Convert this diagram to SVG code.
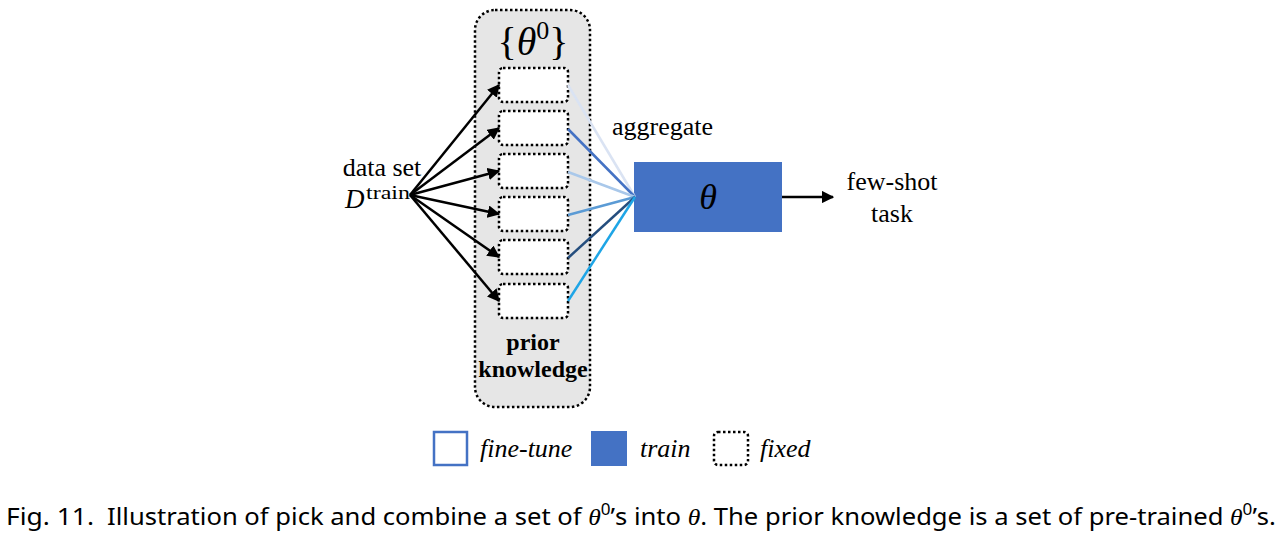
<svg xmlns="http://www.w3.org/2000/svg" width="1285" height="559" viewBox="0 0 1285 559">
<style>
.serif{font-family:"Liberation Serif","DejaVu Serif",serif;fill:#000}
.dot{fill:#fff;stroke:#000;stroke-width:2.5;stroke-dasharray:2.5 2.5}
.ar{stroke:#000;stroke-width:2.5;fill:none}
.cl{stroke-width:2.5;fill:none}
.cap{font-family:"Noto Sans","DejaVu Sans",sans-serif;font-size:24px;fill:#000}
</style>
<defs>
<marker id="ah" viewBox="0 0 10 10" refX="9" refY="5" markerWidth="5" markerHeight="5" orient="auto" markerUnits="strokeWidth">
<path d="M0,0 L10,5 L0,10 Z" fill="#000"/>
</marker>
</defs>
<rect width="1285" height="559" fill="#fff"/>

<g id="prior-knowledge">
<rect x="475" y="10" width="115" height="397" rx="20" fill="#e6e6e6" stroke="#000" stroke-width="2.5" stroke-dasharray="2.5 2.5"/>
<text class="serif" x="533" y="55" font-size="40" text-anchor="middle">{<tspan font-style="italic">θ</tspan><tspan font-size="26" dy="-16">0</tspan><tspan dy="16">}</tspan></text>
<text class="serif" x="533" y="350" font-size="24" font-weight="bold" text-anchor="middle">prior</text>
<text class="serif" x="533" y="377" font-size="24" font-weight="bold" text-anchor="middle">knowledge</text>
</g>

<g id="theta0-1"><rect class="dot" x="499" y="68" width="69" height="34" rx="4"/></g>
<g id="theta0-2"><rect class="dot" x="499" y="111" width="69" height="34" rx="4"/></g>
<g id="theta0-3"><rect class="dot" x="499" y="154" width="69" height="34" rx="4"/></g>
<g id="theta0-4"><rect class="dot" x="499" y="197" width="69" height="34" rx="4"/></g>
<g id="theta0-5"><rect class="dot" x="499" y="240" width="69" height="34" rx="4"/></g>
<g id="theta0-6"><rect class="dot" x="499" y="284" width="69" height="34" rx="4"/></g>

<g id="data-set">
<text class="serif" x="382" y="176" font-size="26" text-anchor="middle">data set</text>
<text class="serif" x="345" y="208" font-size="27" font-style="italic">D</text>
<text class="serif" x="366" y="199" font-size="18" textLength="44" lengthAdjust="spacingAndGlyphs">train</text>
</g>

<g id="theta">
<rect x="634" y="162" width="148" height="70" fill="#4472c4"/>
<text class="serif" x="708" y="209" font-size="36" font-style="italic" text-anchor="middle">θ</text>
</g>

<g id="task">
<text class="serif" x="892" y="190" font-size="26" text-anchor="middle">few-shot</text>
<text class="serif" x="892" y="222" font-size="26" text-anchor="middle">task</text>
</g>

<g id="aggregate-label">
<text class="serif" x="612" y="135" font-size="26">aggregate</text>
</g>

<g id="connectors">
<line class="ar" x1="410" y1="195" x2="499" y2="85" marker-end="url(#ah)"/>
<line class="ar" x1="410" y1="195" x2="499" y2="128" marker-end="url(#ah)"/>
<line class="ar" x1="410" y1="195" x2="499" y2="171" marker-end="url(#ah)"/>
<line class="ar" x1="410" y1="195" x2="499" y2="214" marker-end="url(#ah)"/>
<line class="ar" x1="410" y1="195" x2="499" y2="257" marker-end="url(#ah)"/>
<line class="ar" x1="410" y1="195" x2="499" y2="301" marker-end="url(#ah)"/>
<line class="cl" x1="568" y1="85" x2="635" y2="197" stroke="#dae3f3"/>
<line class="cl" x1="568" y1="129" x2="635" y2="197" stroke="#4472c4"/>
<line class="cl" x1="568" y1="172" x2="635" y2="197" stroke="#a9c8ea"/>
<line class="cl" x1="568" y1="215" x2="635" y2="197" stroke="#5b9bd5"/>
<line class="cl" x1="568" y1="258" x2="635" y2="197" stroke="#254e7e"/>
<line class="cl" x1="568" y1="301" x2="635" y2="197" stroke="#1ea5e6"/>
<line class="ar" x1="782" y1="197" x2="833" y2="197" marker-end="url(#ah)"/>
</g>

<g id="legend">
<rect x="434" y="432" width="33" height="33" fill="#fff" stroke="#4472c4" stroke-width="2.5"/>
<text class="serif" x="480" y="457" font-size="26" font-style="italic">fine-tune</text>
<rect x="591" y="431" width="36" height="35" fill="#4472c4"/>
<text class="serif" x="640" y="457" font-size="26" font-style="italic">train</text>
<rect class="dot" x="714" y="432" width="34" height="33" rx="4"/>
<text class="serif" x="760" y="457" font-size="26" font-style="italic">fixed</text>
</g>

<g id="caption">
<text class="cap" x="6" y="525" textLength="88" lengthAdjust="spacingAndGlyphs">Fig. 11.</text>
<text class="cap" x="107" y="525" textLength="1169" lengthAdjust="spacingAndGlyphs">Illustration of pick and combine a set of <tspan font-family="Liberation Serif,serif" font-style="italic">θ</tspan><tspan font-size="16" dy="-10">0</tspan><tspan dy="10">’s into </tspan><tspan font-family="Liberation Serif,serif" font-style="italic">θ</tspan>. The prior knowledge is a set of pre-trained <tspan font-family="Liberation Serif,serif" font-style="italic">θ</tspan><tspan font-size="16" dy="-10">0</tspan><tspan dy="10">’s.</tspan></text>
</g>
</svg>
